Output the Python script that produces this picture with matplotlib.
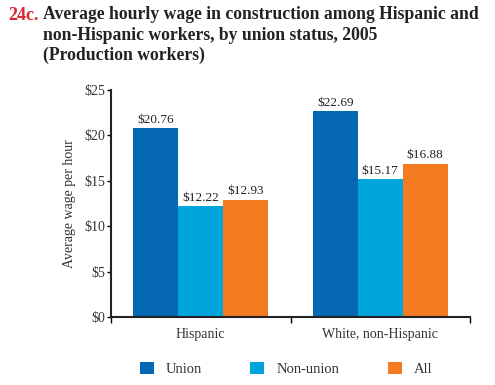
import matplotlib
matplotlib.use("Agg")
import matplotlib.pyplot as plt
import numpy as np

groups = ["Hispanic", "White, non-Hispanic"]
series = ["Union", "Non-union", "All"]
union = [20.76, 22.69]
nonunion = [12.22, 15.17]
all_w = [12.93, 16.88]
yticks = [0, 5, 10, 15, 20, 25]
ytick_labels = ["$0", "$5", "$10", "$15", "$20", "$25"]
colors = ["#0468b4", "#00a5dd", "#f47b20"]

plt.rcParams['font.family'] = ['Liberation Serif', 'DejaVu Serif']

fig = plt.figure(figsize=(4.95, 3.85), dpi=100)
ax = fig.add_axes([111/495, 1-317/385, (470-111)/495, (317-90)/385])

x = np.arange(len(groups))
w = 0.25
for i, vals in enumerate([union, nonunion, all_w]):
    pos = x + (i - 1) * w
    ax.bar(pos, vals, w, color=colors[i], label=series[i])
    for p, v in zip(pos, vals):
        ax.text(p, v + 0.25, f"${v:.2f}", ha="center", va="bottom", fontsize=9.5, color="#222222")

ax.set_xlim(-0.5, 1.5)
ax.set_ylim(0, 25)
ax.set_yticks(yticks)
ax.set_yticklabels(ytick_labels, fontsize=10, color="#333333")
ax.set_xticks([-0.5, 0.5, 1.5])
ax.set_xticklabels([])
ax.set_xticks(x, minor=True)
ax.set_xticklabels(groups, minor=True, fontsize=10, color="#333333")
ax.tick_params(axis="x", which="minor", length=0, pad=8)
ax.tick_params(axis="x", which="major", length=4, width=1, direction="out")
ax.tick_params(axis="y", length=3, width=1, direction="out", pad=1)
ax.set_ylabel("Average wage per hour", fontsize=10, color="#333333", labelpad=6)
for s in ["top", "right"]:
    ax.spines[s].set_visible(False)
for s in ["left", "bottom"]:
    ax.spines[s].set_linewidth(1.5)
    ax.spines[s].set_color("#222222")

# Legend
leg = fig.legend(loc="center left", bbox_to_anchor=(134/495, 1-369/385), ncol=3, frameon=False,
                 fontsize=10.5, handlelength=0.95, handleheight=0.95, columnspacing=3.3,
                 handletextpad=0.85, borderaxespad=0)
for t in leg.get_texts():
    t.set_color("#333333")

# Title
fig.text(8/495, 1-15/385, "24c.", color="#d7262e", fontsize=13, fontweight="bold", va="center")
title = ("Average hourly wage in construction among Hispanic and\n"
         "non-Hispanic workers, by union status, 2005\n"
         "(Production workers)")
fig.text(43/495, 1-6/385, title, color="#222222", fontsize=12.7, fontweight="bold",
         va="top", ha="left", linespacing=1.27)

fig.savefig("out.png", dpi=100)
